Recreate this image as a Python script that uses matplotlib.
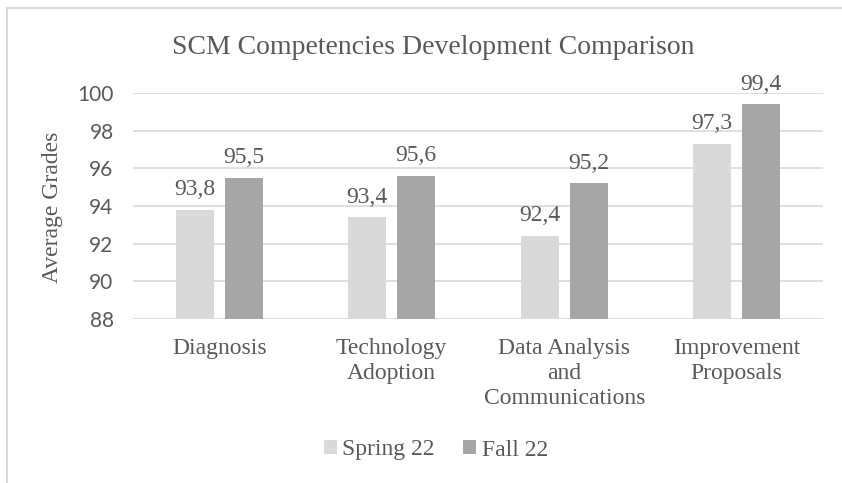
import numpy as np
import matplotlib
matplotlib.use("Agg")
import matplotlib.pyplot as plt
from matplotlib.lines import Line2D

# Datos
categorias = ["Diagnosis", "Technology\nAdoption", "Data Analysis\nand\nCommunications",
              "Improvement\nProposals"]
spring_22 = [93.8, 93.4, 92.4, 97.3]
fall_22 = [95.5, 95.6, 95.2, 99.4]
series = ["Spring 22", "Fall 22"]
yticks = [88, 90, 92, 94, 96, 98, 100]

gris_texto = "#595959"
serif = "Liberation Serif"
sans = "Lato"

fig = plt.figure(figsize=(8.42, 4.83), dpi=100)
ax = fig.add_axes([133 / 842, 1 - 319 / 483, 690 / 842, 226 / 483])

x = np.arange(len(categorias))
ancho = 0.22
b1 = ax.bar(x - 0.142, spring_22, ancho, color="#d9d9d9", label=series[0], zorder=3)
b2 = ax.bar(x + 0.142, fall_22, ancho, color="#a6a6a6", label=series[1], zorder=3)

for barras, vals in [(b1, spring_22), (b2, fall_22)]:
    for b, v in zip(barras, vals):
        ax.annotate(f"{v:.1f}".replace(".", ","), (b.get_x() + b.get_width() / 2, v),
                    xytext=(0, 7), textcoords="offset points", ha="center", va="bottom",
                    fontsize=17, family=serif, color=gris_texto, annotation_clip=False)

ax.set_xlim(-0.5, len(categorias) - 0.5)
ax.set_ylim(88, 100)
ax.set_yticks(yticks)
ax.set_yticklabels([str(t) for t in yticks], family=sans, fontsize=15, color=gris_texto)
ax.set_xticks(x)
ax.set_xticklabels(categorias, family=serif, fontsize=17, color=gris_texto, linespacing=1.25)
ax.tick_params(length=0)
ax.tick_params(axis="x", pad=14)
ax.tick_params(axis="y", pad=14)
ax.grid(axis="y", color="#d9d9d9", linewidth=1.2, zorder=0)
for s in ax.spines.values():
    s.set_visible(False)

fig.text(53 / 842, 1 - 207 / 483, "Average Grades", rotation=90, ha="center", va="center",
         family=serif, fontsize=17, color=gris_texto)
fig.text(433 / 842, 1 - 47 / 483, "SCM Competencies Development Comparison", ha="center",
         va="center", family=serif, fontsize=20, color=gris_texto)

ley = fig.legend(handles=[b1, b2], loc="center", bbox_to_anchor=(436 / 842, 1 - 450 / 483),
                 ncol=2, frameon=False, handlelength=0.55, handleheight=0.55, handletextpad=0.25,
                 columnspacing=1.2, prop={"family": serif, "size": 17})
for t in ley.get_texts():
    t.set_color(gris_texto)

# borde del area del grafico
fig.add_artist(Line2D([7 / 842, 7 / 842], [0, 1 - 8 / 483], transform=fig.transFigure,
                      color="#d9d9d9", linewidth=1.5))
fig.add_artist(Line2D([7 / 842, 1], [1 - 8 / 483, 1 - 8 / 483], transform=fig.transFigure,
                      color="#d9d9d9", linewidth=1.5))

fig.savefig("out.png", dpi=100)
